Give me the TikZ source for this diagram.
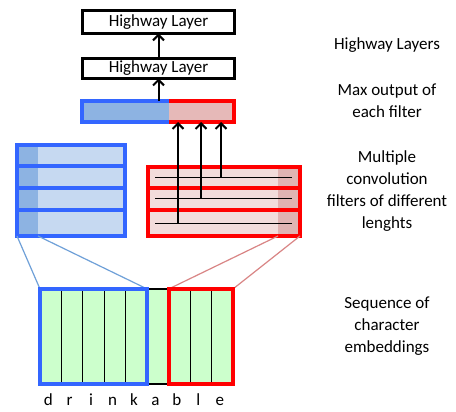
\documentclass[tikz,border=0pt]{standalone}
\usepackage{fontspec}
\setmainfont{Carlito}
\usetikzlibrary{calc,arrows.meta}
\definecolor{blueBd}{HTML}{3366FF}
\definecolor{redBd}{HTML}{FF0000}
\definecolor{blueMax}{HTML}{8DB3E2}
\definecolor{redMax}{HTML}{E6B9B8}
\definecolor{blueLight}{HTML}{C6D9F1}
\definecolor{blueDark}{HTML}{8DB3E2}
\definecolor{redLight}{HTML}{F2DCDB}
\definecolor{redDark}{HTML}{E0B3B2}
\definecolor{cellGreen}{HTML}{CCFFCC}
\definecolor{blueThin}{HTML}{6FA0D8}
\definecolor{redThin}{HTML}{D98585}
\tikzset{
  txt/.style={font=\fontsize{17}{22}\selectfont},
  hwbox/.style={txt, draw=black, line width=3pt, minimum width=152pt, inner sep=0pt, outer sep=0pt},
  maxpart/.style={minimum height=21pt, inner sep=0pt, outer sep=0pt},
  blueline/.style={blueBd, line width=4pt},
  redline/.style={redBd, line width=4pt},
  bluerow/.style={draw=blueBd, line width=4pt, fill=blueLight, minimum width=108pt, inner sep=0pt, outer sep=0pt,
    path picture={\fill[blueDark] (path picture bounding box.north west) rectangle ([xshift=21pt]path picture bounding box.south west);}},
  redrow/.style={draw=redBd, line width=4pt, fill=redLight, minimum width=152pt, inner sep=0pt, outer sep=0pt,
    path picture={\fill[redDark] (path picture bounding box.north east) rectangle ([xshift=-22pt]path picture bounding box.south east);}},
  kline/.style={black, line width=1pt},
  arr/.style={black, line width=2pt, -{Straight Barb[length=5.5pt,width=11pt,line width=2pt]}},
  cell/.style={draw=black, line width=1pt, fill=cellGreen, minimum width=21.44pt, minimum height=95pt, inner sep=0pt, outer sep=0pt},
  sidetext/.style={txt, align=center, inner sep=0pt}
}
\begin{document}
\begin{tikzpicture}[x=1pt,y=-1pt]
\fill[white] (0,0) rectangle (456,412);
\useasboundingbox (0,0) rectangle (456,412);

% highway layers
\node[hwbox, minimum height=23pt] (hw1) at (158.5,22) {Highway Layer};
\node[hwbox, minimum height=20pt] (hw2) at (158.5,68.5) {Highway Layer};

% max output of each filter
\node[maxpart, fill=blueMax, minimum width=87pt] (mb) at (125.5,111.5) {};
\node[maxpart, fill=redMax, minimum width=65pt] (mr) at (201.5,111.5) {};
\draw[blueline] (mb.north east) -- (mb.north west) -- (mb.south west) -- (mb.south east);
\draw[redline] (mr.north west) -- (mr.north east) -- (mr.south east) -- (mr.south west);

\draw[arr] (hw2.north) -- (hw1.south);
\draw[arr] (hw2.south |- mb.north) -- (hw2.south);

% filters
\foreach \i/\y/\h in {1/155.5/21, 2/177/22, 3/199/22, 4/223/26}
  \node[bluerow, minimum height={\h pt}] (bf\i) at (71,\y) {};
\foreach \i/\y/\h in {1/177.5/21, 2/199/22, 3/223/26}
  \node[redrow, minimum height={\h pt}] (rf\i) at (224,\y) {};
\foreach \i/\x in {1/221, 2/201, 3/178} {
  \draw[kline] ([xshift=7pt]rf\i.west) -- ([xshift=-8pt]rf\i.east);
  \coordinate (k\i) at (rf\i.center -| \x,0);
  \draw[arr] (k\i) -- (k\i |- mr.south);
}

% characters
\foreach \ch [count=\i] in {d,r,i,n,k,a,b,l,e} {
  \node[cell] (c\i) at (40+21.44*\i-10.72,336.5) {};
  \node[txt, anchor=base, inner sep=0pt] (l\i) at (40+21.44*\i-13.2,405) {\ch};
}
\draw[blueThin, line width=1.2pt] (bf4.south west) -- (c1.north west);
\draw[blueThin, line width=1.2pt] ([xshift=21pt]bf4.south west) -- (c5.north east);
\draw[redThin, line width=1.2pt] ([xshift=-22pt]rf3.south east) -- (c7.north west);
\draw[redThin, line width=1.2pt] (rf3.south east) -- (c9.north east);
\draw[black, line width=2pt] (c6.north west) rectangle (c6.south east);
\draw[blueline] (c1.north west) rectangle (c5.south east);
\draw[redline] (c7.north west) rectangle (c9.south east);

% notes
\node[sidetext] (t1) at (387,45) {Highway Layers};
\node[sidetext] (t2) at (387,101) {Max output of\\each filter};
\node[sidetext] (t3) at (387,191) {Multiple\\convolution\\filters of different\\lenghts};
\node[sidetext] (t4) at (387,326) {Sequence of\\character\\embeddings};
\end{tikzpicture}
\end{document}
